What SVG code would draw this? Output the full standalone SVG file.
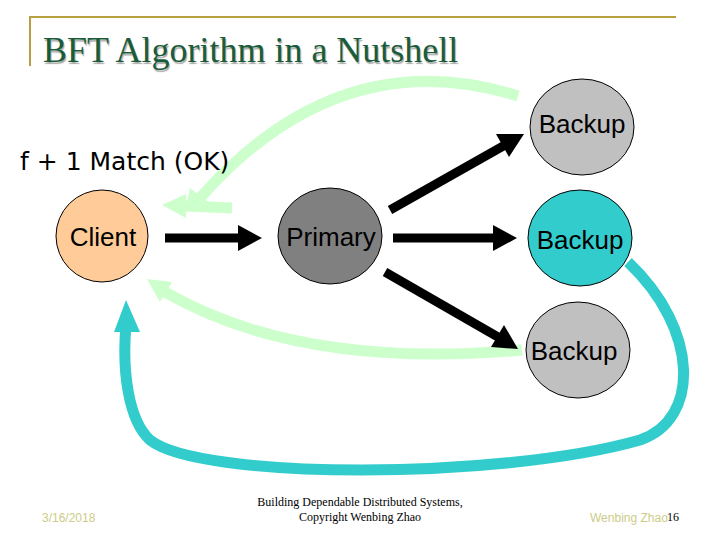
<svg xmlns="http://www.w3.org/2000/svg" width="720" height="540" viewBox="0 0 720 540">
<style>
.lbl{font-family:"Liberation Sans",sans-serif;font-size:26px;fill:#000;text-anchor:middle}
.blk{stroke:#000;stroke-width:9;fill:none}
.grn{stroke:#ccffcc;stroke-width:11;fill:none}
.tl{stroke:#33cccc;stroke-width:11;fill:none}
.foot{font-family:"Liberation Sans",sans-serif;font-size:12px;fill:#cccc88}
</style>
<rect width="720" height="540" fill="#fff"/>
<path d="M30 66V17H676" stroke="#b8a040" stroke-width="2" fill="none"/>
<text x="43" y="62" font-family="Liberation Serif,serif" font-size="36" fill="#1a5c3a" style="text-shadow:1px 2px 1px #aaa">BFT Algorithm in a Nutshell</text>
<g id="connectors">
<path class="grn" d="M518 96 Q340 40 200 198"/>
<polygon points="185,212 190,188 208,202" fill="#ccffcc"/>
<path class="grn" d="M232 208 L185 206"/>
<polygon points="162,205 186,194 186,218" fill="#ccffcc"/>
<path class="grn" d="M522 350 Q300 370 165 292"/>
<polygon points="147,279 172,282 160,302" fill="#ccffcc"/>
<path class="tl" d="M628 262 C700 330 700 420 640 440 C500 480 200 480 150 440 C128 420 122 370 126 325"/>
<polygon points="126,300 114,332 140,332" fill="#33cccc"/>
<path class="blk" d="M165 238H240"/>
<polygon points="262,238 238,225 238,251" fill="#000"/>
<path class="blk" d="M390 210L505 145"/>
<polygon points="524,134 496,134 509,157" fill="#000"/>
<path class="blk" d="M393 238H495"/>
<polygon points="517,238 493,225 493,251" fill="#000"/>
<path class="blk" d="M385 272L498 337"/>
<polygon points="518,349 491,347 504,325" fill="#000"/>
</g>
<g id="client"><circle cx="102" cy="236" r="46" fill="#ffcc99" stroke="#000"/><text class="lbl" x="103" y="246">Client</text></g>
<g id="primary"><ellipse cx="330" cy="236" rx="52" ry="48" fill="#808080" stroke="#000"/><text class="lbl" x="331" y="246">Primary</text></g>
<g id="backup1"><ellipse cx="582" cy="127" rx="52" ry="48" fill="#c0c0c0" stroke="#000"/><text class="lbl" x="582" y="133">Backup</text></g>
<g id="backup2"><ellipse cx="580" cy="238" rx="52" ry="48" fill="#33cccc" stroke="#000"/><text class="lbl" x="580" y="249">Backup</text></g>
<g id="backup3"><ellipse cx="578" cy="350" rx="52" ry="48" fill="#c0c0c0" stroke="#000"/><text class="lbl" x="574" y="360">Backup</text></g>
<text x="20" y="170" font-family="DejaVu Sans,sans-serif" font-size="25" fill="#000">f + 1 Match (OK)</text>
<text class="foot" x="42" y="522">3/16/2018</text>
<text x="360" y="506" font-family="Liberation Serif,serif" font-size="12" text-anchor="middle">Building Dependable Distributed Systems,</text>
<text x="360" y="521" font-family="Liberation Serif,serif" font-size="12" text-anchor="middle">Copyright Wenbing Zhao</text>
<text class="foot" x="590" y="522">Wenbing Zhao</text>
<text x="667" y="521" font-family="Liberation Serif,serif" font-size="12">16</text>
</svg>
